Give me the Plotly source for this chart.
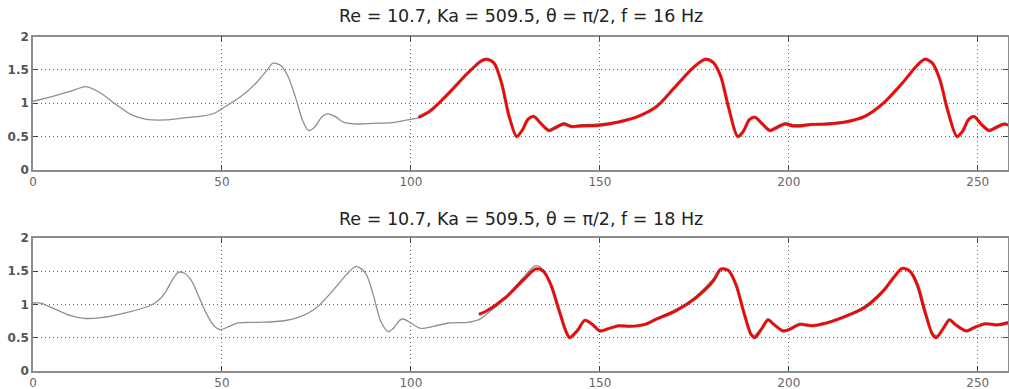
import plotly.graph_objects as go

# ---------- data: panel 1 (f = 16 Hz) ----------
grey1_x = [0, 5, 10, 14, 18, 22, 26, 30, 35, 40, 45, 48, 50, 55, 59, 62, 63.5, 65.5, 67.5, 69.5, 71.5, 73, 74.5,
           76.5, 78, 80, 82, 85, 90, 95, 100, 102, 105, 110, 115, 118.5, 120, 122, 124, 126, 128, 129.5, 131, 132.5,
           134.5, 136.5, 138.5, 140.5, 142.5, 145, 150, 155, 160, 165, 170, 175, 178, 180, 182, 184, 186.5, 188,
           189.5, 191, 193, 195, 197, 199, 201, 203, 206, 210, 215, 220, 225, 230, 234, 236, 238, 240, 242, 244.5,
           246, 247.5, 249, 251, 253, 255, 257, 258]
grey1_y = [1.03, 1.1, 1.18, 1.25, 1.15, 0.98, 0.83, 0.76, 0.75, 0.78, 0.81, 0.85, 0.92, 1.1, 1.3, 1.5, 1.6, 1.57,
           1.4, 1.08, 0.72, 0.59, 0.64, 0.8, 0.84, 0.8, 0.72, 0.69, 0.7, 0.71, 0.76, 0.78, 0.88, 1.15, 1.45, 1.64,
           1.67, 1.6, 1.3, 0.82, 0.52, 0.6, 0.77, 0.81, 0.7, 0.61, 0.66, 0.71, 0.66, 0.68, 0.69, 0.73, 0.8, 0.95,
           1.25, 1.55, 1.67, 1.62, 1.42, 0.97, 0.52, 0.6, 0.76, 0.8, 0.7, 0.61, 0.66, 0.71, 0.68, 0.68, 0.69, 0.7,
           0.73, 0.81, 1.0, 1.3, 1.58, 1.67, 1.61, 1.36, 0.92, 0.52, 0.6, 0.76, 0.81, 0.69, 0.61, 0.66, 0.7, 0.68]

red1_x = [102, 105, 110, 115, 118.5, 120, 122, 124, 126, 128, 129.5, 131, 132.5, 134.5, 136.5, 138.5, 140.5, 142.5,
          145, 150, 155, 160, 165, 170, 175, 178, 180, 182, 184, 186.5, 188, 189.5, 191, 193, 195, 197, 199, 201,
          203, 206, 210, 215, 220, 225, 230, 234, 236, 238, 240, 242, 244.5, 246, 247.5, 249, 251, 253, 255, 257, 258]
red1_y = [0.79, 0.88, 1.15, 1.45, 1.63, 1.66, 1.6, 1.3, 0.8, 0.5, 0.6, 0.76, 0.8, 0.69, 0.59, 0.64, 0.69, 0.65,
          0.66, 0.67, 0.72, 0.8, 0.95, 1.25, 1.55, 1.66, 1.61, 1.4, 0.95, 0.5, 0.58, 0.75, 0.79, 0.69, 0.59, 0.64,
          0.69, 0.66, 0.66, 0.68, 0.69, 0.72, 0.8, 1.0, 1.3, 1.57, 1.66, 1.6, 1.35, 0.9, 0.5, 0.58, 0.75, 0.8, 0.68,
          0.59, 0.64, 0.69, 0.67]

# ---------- data: panel 2 (f = 18 Hz) ----------
grey2_x = [0, 2, 5, 10, 13.5, 18, 25, 30, 33, 35, 37, 38.5, 40, 42, 44, 46, 48, 49.5, 52, 54, 60, 66, 70, 75, 80,
           83, 85.5, 88, 90, 92, 94, 95.5, 97, 98, 100, 102.5, 106, 110, 115, 118, 120, 125, 130, 133, 135, 137,
           139, 141, 142, 144, 146, 148, 150, 152, 155, 158, 162, 165, 170, 175, 180, 182, 184, 186, 188, 190, 191,
           193, 194.5, 196, 198.5, 200, 203, 206, 210, 215, 220, 225, 228, 230, 232, 234, 236, 238, 239.5, 241,
           242.5, 244, 247, 249, 252, 255, 258]
grey2_y = [1.02, 1.02, 0.95, 0.83, 0.79, 0.8, 0.88, 0.96, 1.05, 1.18, 1.38, 1.48, 1.47, 1.35, 1.1, 0.85, 0.67,
           0.62, 0.67, 0.72, 0.73, 0.75, 0.8, 0.95, 1.25, 1.45, 1.57, 1.47, 1.15, 0.75, 0.59, 0.65, 0.76, 0.78,
           0.72, 0.64, 0.67, 0.72, 0.73, 0.77, 0.85, 1.1, 1.42, 1.58, 1.52, 1.28, 0.92, 0.58, 0.52, 0.62, 0.76,
           0.71, 0.61, 0.63, 0.68, 0.67, 0.71, 0.79, 0.92, 1.1, 1.38, 1.52, 1.5, 1.28, 0.88, 0.55, 0.54, 0.66,
           0.76, 0.7, 0.61, 0.63, 0.7, 0.68, 0.73, 0.83, 0.97, 1.22, 1.43, 1.53, 1.49, 1.25, 0.85, 0.57, 0.53,
           0.66, 0.76, 0.7, 0.61, 0.66, 0.71, 0.7, 0.74]

red2_x = [118, 120, 125, 130, 133, 135, 137, 139, 141, 142, 144, 146, 148, 150, 152, 155, 158, 162, 165, 170, 175,
          180, 182, 184, 186, 188, 190, 191, 193, 194.5, 196, 198.5, 200, 203, 206, 210, 215, 220, 225, 228, 230,
          232, 234, 236, 238, 239, 241, 242.5, 244, 247, 249, 252, 255, 258]
red2_y = [0.85, 0.9, 1.1, 1.38, 1.53, 1.5, 1.3, 0.95, 0.6, 0.5, 0.6, 0.76, 0.7, 0.6, 0.63, 0.68, 0.67, 0.7, 0.78,
          0.9, 1.08, 1.35, 1.53, 1.51, 1.3, 0.9, 0.55, 0.5, 0.65, 0.77, 0.7, 0.6, 0.62, 0.7, 0.68, 0.72, 0.82,
          0.95, 1.2, 1.42, 1.54, 1.5, 1.3, 0.9, 0.55, 0.5, 0.65, 0.77, 0.7, 0.6, 0.65, 0.71, 0.69, 0.72]

titles = ["Re = 10.7, Ka = 509.5, \u03b8 = \u03c0/2, f = 16 Hz",
          "Re = 10.7, Ka = 509.5, \u03b8 = \u03c0/2, f = 18 Hz"]
x_ticks = [0, 50, 100, 150, 200, 250]
y_ticks = [0, 0.5, 1, 1.5, 2]
y_tick_labels = ["0", "0.5", "1", "1.5", "2"]

H = 389.0
FONT = "DejaVu Sans, Arial"
fig = go.Figure()

panels = [(grey1_x, grey1_y, red1_x, red1_y), (grey2_x, grey2_y, red2_x, red2_y)]
for i, (gx, gy, rx, ry) in enumerate(panels):
    xa = "x" if i == 0 else "x2"
    ya = "y" if i == 0 else "y2"
    fig.add_trace(go.Scatter(x=gx, y=gy, mode="lines", xaxis=xa, yaxis=ya,
                             line=dict(color="#8f8f8f", width=1.3, shape="spline", smoothing=0.8),
                             showlegend=False, hoverinfo="skip"))
    # dark edge under the red curve
    fig.add_trace(go.Scatter(x=rx, y=ry, mode="lines", xaxis=xa, yaxis=ya,
                             line=dict(color="rgba(40,40,40,0.45)", width=3.5, shape="spline", smoothing=0.8),
                             showlegend=False, hoverinfo="skip"))
    fig.add_trace(go.Scatter(x=rx, y=ry, mode="lines", xaxis=xa, yaxis=ya,
                             line=dict(color="#ff0000", width=2.5, shape="spline", smoothing=0.8),
                             showlegend=False, hoverinfo="skip"))

dom_top = [(H - 170) / H, (H - 36.5) / H]
dom_bot = [(H - 371) / H, (H - 237.7) / H]

axis_common = dict(showline=True, linecolor="#8c8c8c", linewidth=1.6, mirror="ticks",
                   ticks="inside", ticklen=5, tickcolor="#444", tickwidth=1,
                   showgrid=True, gridcolor="#666", griddash="1px,3px", gridwidth=1,
                   zeroline=False, automargin=False)
xfont = dict(family=FONT, size=12, color="#666")
yfont = dict(family=FONT, size=12, color="#555", weight="bold")

fig.update_layout(
    width=1009, height=389,
    margin=dict(l=33, r=1, t=0, b=0),
    paper_bgcolor="white", plot_bgcolor="white",
    xaxis=dict(domain=[0, 1], range=[0, 258], tickvals=x_ticks, anchor="y", tickfont=xfont, **axis_common),
    yaxis=dict(domain=dom_top, range=[0, 2], tickvals=y_ticks, ticktext=y_tick_labels, anchor="x",
               tickfont=yfont, **axis_common),
    xaxis2=dict(domain=[0, 1], range=[0, 258], tickvals=x_ticks, anchor="y2", tickfont=xfont, **axis_common),
    yaxis2=dict(domain=dom_bot, range=[0, 2], tickvals=y_ticks, ticktext=y_tick_labels, anchor="x2",
                tickfont=yfont, **axis_common),
)

for t, ypix in zip(titles, [16, 219]):
    fig.add_annotation(text=t, xref="paper", yref="paper", x=0.5, y=(H - ypix) / H,
                       showarrow=False, xanchor="center", yanchor="middle",
                       font=dict(family=FONT, size=17.5, color="#222"))

fig.write_html("out.html", config={"displayModeBar": False},
               post_script="document.body.style.margin='0';document.body.style.overflow='hidden';")
